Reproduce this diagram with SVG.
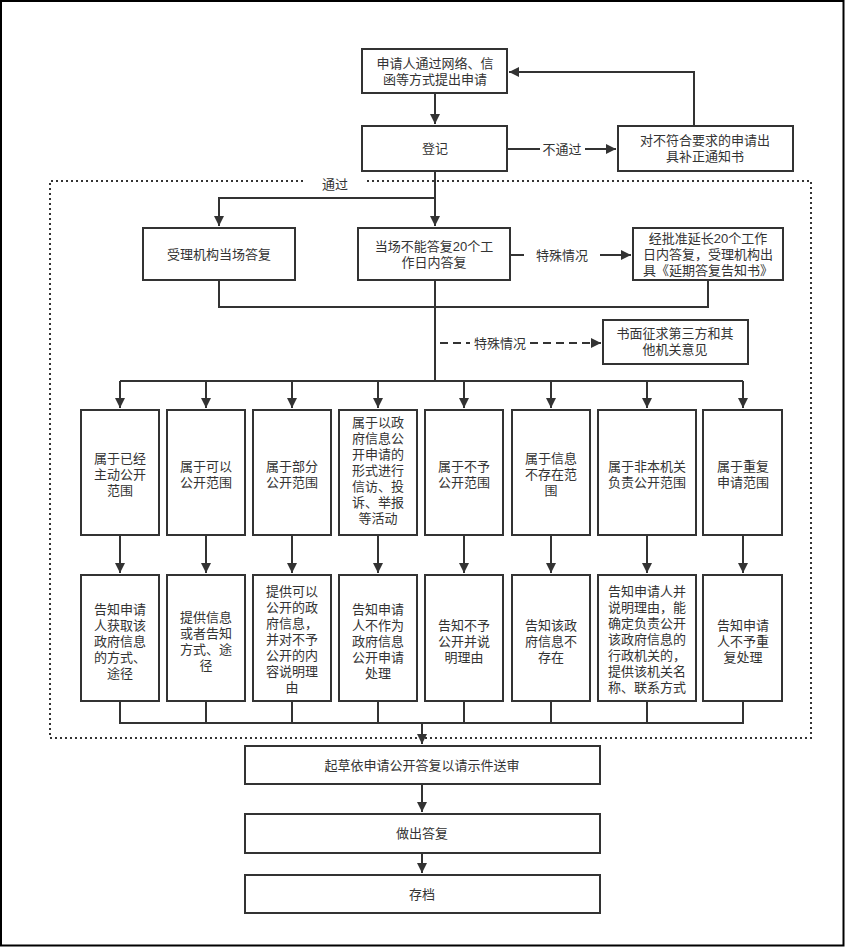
<svg xmlns="http://www.w3.org/2000/svg" width="845" height="947" viewBox="0 0 845 947">
<style>
.box{fill:#fff;stroke:#333;stroke-width:2}
.t{font-family:"Liberation Sans","Noto Sans CJK SC",sans-serif;font-size:13px;fill:#333;text-anchor:middle}
.c{fill:none;stroke:#333;stroke-width:2}
.d{fill:none;stroke:#333;stroke-width:2;stroke-dasharray:8 5}
.dot{fill:none;stroke:#333;stroke-width:2;stroke-dasharray:2 3}
</style>
<defs>
<marker id="a" viewBox="0 0 10 10" refX="10" refY="5" markerWidth="5" markerHeight="5" orient="auto" markerUnits="strokeWidth">
<path d="M0,0 L10,5 L0,10 z" fill="#333"/>
</marker>
</defs>
<rect x="1" y="1" width="842.5" height="944.5" fill="#fff" stroke="#000" stroke-width="2"/>
<g id="boundary">
<path class="dot" d="M303,181 H50 V738 H811 V181 H365"/>
<text class="t" x="335" y="189">通过</text>
</g>
<g id="connectors">
<path class="c" d="M435,93 V124" marker-end="url(#a)"/>
<path class="c" d="M507,149 H540"/>
<path class="c" d="M585,149 H616" marker-end="url(#a)"/>
<path class="c" d="M694,126 V72 H509" marker-end="url(#a)"/>
<path class="c" d="M435,171 V226" marker-end="url(#a)"/>
<path class="c" d="M435,198 H219 V226" marker-end="url(#a)"/>
<path class="c" d="M510,255 H524"/>
<path class="c" d="M600,255 H631" marker-end="url(#a)"/>
<path class="c" d="M219,280 V307 H708 V280"/>
<path class="c" d="M435,280 V381"/>
<path class="d" d="M440,343 H470"/>
<path class="d" d="M530,343 H601" marker-end="url(#a)"/>
<path class="c" d="M120,381 H743"/>
<path class="c" d="M120,381 V408" marker-end="url(#a)"/>
<path class="c" d="M206,381 V408" marker-end="url(#a)"/>
<path class="c" d="M292,381 V408" marker-end="url(#a)"/>
<path class="c" d="M378,381 V408" marker-end="url(#a)"/>
<path class="c" d="M464,381 V408" marker-end="url(#a)"/>
<path class="c" d="M551,381 V408" marker-end="url(#a)"/>
<path class="c" d="M647,381 V408" marker-end="url(#a)"/>
<path class="c" d="M743,381 V408" marker-end="url(#a)"/>
<path class="c" d="M120,535 V573" marker-end="url(#a)"/>
<path class="c" d="M206,535 V573" marker-end="url(#a)"/>
<path class="c" d="M292,535 V573" marker-end="url(#a)"/>
<path class="c" d="M378,535 V573" marker-end="url(#a)"/>
<path class="c" d="M464,535 V573" marker-end="url(#a)"/>
<path class="c" d="M551,535 V573" marker-end="url(#a)"/>
<path class="c" d="M647,535 V573" marker-end="url(#a)"/>
<path class="c" d="M743,535 V573" marker-end="url(#a)"/>
<path class="c" d="M120,701 V723 H743 V701 M206,701 V723 M292,701 V723 M378,701 V723 M464,701 V723 M551,701 V723 M647,701 V723"/>
<path class="c" d="M422,723 V744" marker-end="url(#a)"/>
<path class="c" d="M422,784 V812" marker-end="url(#a)"/>
<path class="c" d="M422,853 V873" marker-end="url(#a)"/>
<text class="t" x="562" y="154">不通过</text>
<text class="t" x="562" y="260">特殊情况</text>
<text class="t" x="500" y="348">特殊情况</text>
</g>
<g id="n1"><rect class="box" x="362" y="49" width="145" height="44"/><text class="t" x="435" y="68">申请人通过网络、信<tspan x="435" dy="16">函等方式提出申请</tspan></text></g>
<g id="n2"><rect class="box" x="362" y="126" width="145" height="45"/><text class="t" x="435" y="153">登记</text></g>
<g id="n3"><rect class="box" x="618" y="126" width="175" height="45"/><text class="t" x="705" y="145">对不符合要求的申请出<tspan x="705" dy="16">具补正通知书</tspan></text></g>
<g id="n4"><rect class="box" x="143" y="228" width="152" height="52"/><text class="t" x="219" y="259">受理机构当场答复</text></g>
<g id="n5"><rect class="box" x="358" y="228" width="152" height="52"/><text class="t" x="434" y="251">当场不能答复20个工<tspan x="434" dy="16">作日内答复</tspan></text></g>
<g id="n6"><rect class="box" x="633" y="228" width="150" height="52"/><text class="t" x="708" y="243">经批准延长20个工作<tspan x="708" dy="16">日内答复，受理机构出</tspan><tspan x="708" dy="16">具《延期答复告知书》</tspan></text></g>
<g id="n7"><rect class="box" x="603" y="320" width="145" height="44"/><text class="t" x="675" y="338">书面征求第三方和其<tspan x="675" dy="16">他机关意见</tspan></text></g>
<g id="r1"><rect class="box" x="81" y="410" width="78" height="125"/><text class="t" x="120" y="463">属于已经<tspan x="120" dy="16">主动公开</tspan><tspan x="120" dy="16">范围</tspan></text></g>
<g id="r2"><rect class="box" x="167" y="410" width="78" height="125"/><text class="t" x="206" y="471">属于可以<tspan x="206" dy="16">公开范围</tspan></text></g>
<g id="r3"><rect class="box" x="253" y="410" width="78" height="125"/><text class="t" x="292" y="471">属于部分<tspan x="292" dy="16">公开范围</tspan></text></g>
<g id="r4"><rect class="box" x="339" y="410" width="78" height="125"/><text class="t" x="378" y="427">属于以政<tspan x="378" dy="16">府信息公</tspan><tspan x="378" dy="16">开申请的</tspan><tspan x="378" dy="16">形式进行</tspan><tspan x="378" dy="16">信访、投</tspan><tspan x="378" dy="16">诉、举报</tspan><tspan x="378" dy="16">等活动</tspan></text></g>
<g id="r5"><rect class="box" x="425" y="410" width="78" height="125"/><text class="t" x="464" y="471">属于不予<tspan x="464" dy="16">公开范围</tspan></text></g>
<g id="r6"><rect class="box" x="512" y="410" width="78" height="125"/><text class="t" x="551" y="463">属于信息<tspan x="551" dy="16">不存在范</tspan><tspan x="551" dy="16">围</tspan></text></g>
<g id="r7"><rect class="box" x="598" y="410" width="98" height="125"/><text class="t" x="647" y="471">属于非本机关<tspan x="647" dy="16">负责公开范围</tspan></text></g>
<g id="r8"><rect class="box" x="703" y="410" width="79" height="125"/><text class="t" x="743" y="471">属于重复<tspan x="743" dy="16">申请范围</tspan></text></g>
<g id="s1"><rect class="box" x="81" y="575" width="78" height="126"/><text class="t" x="120" y="614">告知申请<tspan x="120" dy="16">人获取该</tspan><tspan x="120" dy="16">政府信息</tspan><tspan x="120" dy="16">的方式、</tspan><tspan x="120" dy="16">途径</tspan></text></g>
<g id="s2"><rect class="box" x="167" y="575" width="78" height="126"/><text class="t" x="206" y="622">提供信息<tspan x="206" dy="16">或者告知</tspan><tspan x="206" dy="16">方式、途</tspan><tspan x="206" dy="16">径</tspan></text></g>
<g id="s3"><rect class="box" x="253" y="575" width="78" height="126"/><text class="t" x="292" y="596">提供可以<tspan x="292" dy="16">公开的政</tspan><tspan x="292" dy="16">府信息，</tspan><tspan x="292" dy="16">并对不予</tspan><tspan x="292" dy="16">公开的内</tspan><tspan x="292" dy="16">容说明理</tspan><tspan x="292" dy="16">由</tspan></text></g>
<g id="s4"><rect class="box" x="339" y="575" width="78" height="126"/><text class="t" x="378" y="614">告知申请<tspan x="378" dy="16">人不作为</tspan><tspan x="378" dy="16">政府信息</tspan><tspan x="378" dy="16">公开申请</tspan><tspan x="378" dy="16">处理</tspan></text></g>
<g id="s5"><rect class="box" x="425" y="575" width="78" height="126"/><text class="t" x="464" y="630">告知不予<tspan x="464" dy="16">公开并说</tspan><tspan x="464" dy="16">明理由</tspan></text></g>
<g id="s6"><rect class="box" x="512" y="575" width="78" height="126"/><text class="t" x="551" y="630">告知该政<tspan x="551" dy="16">府信息不</tspan><tspan x="551" dy="16">存在</tspan></text></g>
<g id="s7"><rect class="box" x="598" y="575" width="98" height="126"/><text class="t" x="647" y="596">告知申请人并<tspan x="647" dy="16">说明理由，能</tspan><tspan x="647" dy="16">确定负责公开</tspan><tspan x="647" dy="16">该政府信息的</tspan><tspan x="647" dy="16">行政机关的，</tspan><tspan x="647" dy="16">提供该机关名</tspan><tspan x="647" dy="16">称、联系方式</tspan></text></g>
<g id="s8"><rect class="box" x="703" y="575" width="79" height="126"/><text class="t" x="743" y="630">告知申请<tspan x="743" dy="16">人不予重</tspan><tspan x="743" dy="16">复处理</tspan></text></g>
<g id="b1"><rect class="box" x="245" y="746" width="355" height="38"/><text class="t" x="422" y="770">起草依申请公开答复以请示件送审</text></g>
<g id="b2"><rect class="box" x="245" y="814" width="355" height="39"/><text class="t" x="422" y="838">做出答复</text></g>
<g id="b3"><rect class="box" x="245" y="875" width="355" height="38"/><text class="t" x="422" y="899">存档</text></g>
</svg>
